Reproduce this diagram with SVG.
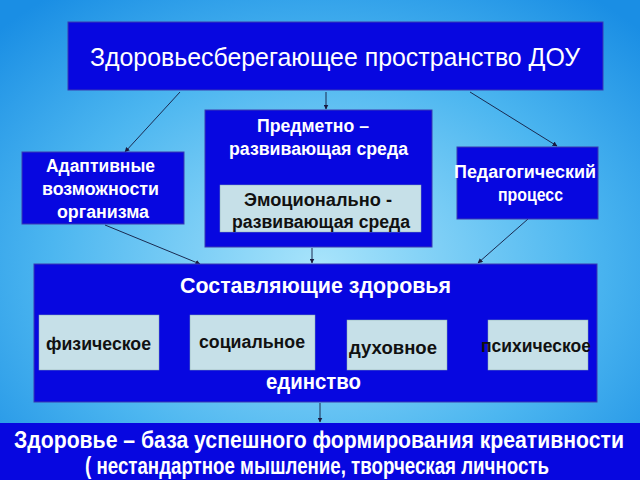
<svg xmlns="http://www.w3.org/2000/svg" width="640" height="480" viewBox="0 0 640 480">
<defs>
<radialGradient id="bg" cx="50%" cy="55%" r="70%">
<stop offset="0" stop-color="#a8e4fb"/>
<stop offset="0.6" stop-color="#4cb6f0"/>
<stop offset="1" stop-color="#1a8ee4"/>
</radialGradient>
<marker id="ah" viewBox="0 0 10 10" refX="9" refY="5" markerWidth="5" markerHeight="5" orient="auto-start-reverse"><path d="M0,0 L10,5 L0,10 z" fill="#1a1a40"/></marker>
</defs>
<style>
.b{fill:#0707e0;stroke:#3a3ab0;stroke-width:1}
.l{fill:#c6e0e8;stroke:#8aa;stroke-width:0.5}
.w{fill:#fff;font-family:"Liberation Sans",Arial,sans-serif;font-weight:bold}
.d{fill:#111;font-family:"Liberation Sans",Arial,sans-serif;font-weight:bold;font-size:18px}
.c{stroke:#1a2a50;stroke-width:1;fill:none;marker-end:url(#ah)}
.c2{stroke:#fff;stroke-width:1;fill:none;marker-end:url(#ah);marker-start:url(#ah)}
</style>
<rect width="640" height="480" fill="url(#bg)"/>
<g id="connectors">
<line class="c" x1="180" y1="92" x2="125" y2="152"/>
<line class="c" x1="326" y1="92" x2="326" y2="109"/>
<line class="c" x1="470" y1="92" x2="557" y2="146"/>
<line class="c" x1="105" y1="225" x2="200" y2="264"/>
<line class="c" x1="312" y1="248" x2="312" y2="263"/>
<line class="c" x1="528" y1="219" x2="478" y2="263"/>
<line class="c" x1="320" y1="403" x2="320" y2="422"/>
<line class="c2" x1="162" y1="342" x2="187" y2="342"/>
<line class="c2" x1="318" y1="343" x2="344" y2="345"/>
<line class="c2" x1="450" y1="345" x2="484" y2="345"/>
</g>
<g id="top"><rect class="b" x="68" y="22" width="535" height="68"/><text x="90" y="66" font-size="26" fill="#fff" font-family="Liberation Sans, Arial, sans-serif" textLength="490" lengthAdjust="spacingAndGlyphs">Здоровьесберегающее пространство ДОУ</text></g>
<g id="sreda"><rect class="b" x="205" y="110" width="227" height="137"/>
<text class="w" x="257" y="132" font-size="18" textLength="112" lengthAdjust="spacingAndGlyphs">Предметно –</text>
<text class="w" x="229" y="155" font-size="18" textLength="179" lengthAdjust="spacingAndGlyphs">развивающая среда</text>
<rect class="l" x="220" y="185" width="201" height="47"/>
<text class="d" x="244" y="206" textLength="148" lengthAdjust="spacingAndGlyphs">Эмоционально  -</text>
<text class="d" x="232" y="228" textLength="178" lengthAdjust="spacingAndGlyphs">развивающая среда</text></g>
<g id="adapt"><rect class="b" x="22" y="152" width="162" height="72"/>
<text class="w" x="46" y="172" font-size="18" textLength="109" lengthAdjust="spacingAndGlyphs">Адаптивные</text>
<text class="w" x="42" y="195" font-size="18" textLength="117" lengthAdjust="spacingAndGlyphs">возможности</text>
<text class="w" x="57" y="218" font-size="18" textLength="92" lengthAdjust="spacingAndGlyphs">организма</text></g>
<g id="ped"><rect class="b" x="457" y="147" width="141" height="72"/>
<text class="w" x="454" y="178" font-size="18" textLength="142" lengthAdjust="spacingAndGlyphs">Педагогический</text>
<text class="w" x="498" y="201" font-size="18" textLength="65" lengthAdjust="spacingAndGlyphs">процесс</text></g>
<g id="sost"><rect class="b" x="34" y="264" width="563" height="138"/>
<text class="w" x="180" y="293" font-size="22" textLength="271" lengthAdjust="spacingAndGlyphs">Составляющие здоровья</text>
<text class="w" x="266" y="389" font-size="22" textLength="95" lengthAdjust="spacingAndGlyphs">единство</text></g>
<g id="fiz"><rect class="l" x="39" y="315" width="120" height="55"/><text class="d" x="46" y="350" textLength="105" lengthAdjust="spacingAndGlyphs">физическое</text></g>
<g id="soc"><rect class="l" x="190" y="315" width="125" height="55"/><text class="d" x="199" y="348" textLength="106" lengthAdjust="spacingAndGlyphs">социальное</text></g>
<g id="duh"><rect class="l" x="347" y="320" width="100" height="50"/><text class="d" x="349" y="354" textLength="88" lengthAdjust="spacingAndGlyphs">духовное</text></g>
<g id="psih"><rect class="l" x="488" y="320" width="100" height="50"/><text class="d" x="481" y="352" textLength="110" lengthAdjust="spacingAndGlyphs">психическое</text></g>
<g id="bottom"><rect x="0" y="423" width="640" height="57" fill="#0707e0"/>
<text class="w" x="14" y="448" font-size="23" textLength="610" lengthAdjust="spacingAndGlyphs">Здоровье – база успешного формирования креативности</text>
<text class="w" x="85" y="474" font-size="23" textLength="464" lengthAdjust="spacingAndGlyphs">( нестандартное мышление, творческая личность</text></g>
</svg>
